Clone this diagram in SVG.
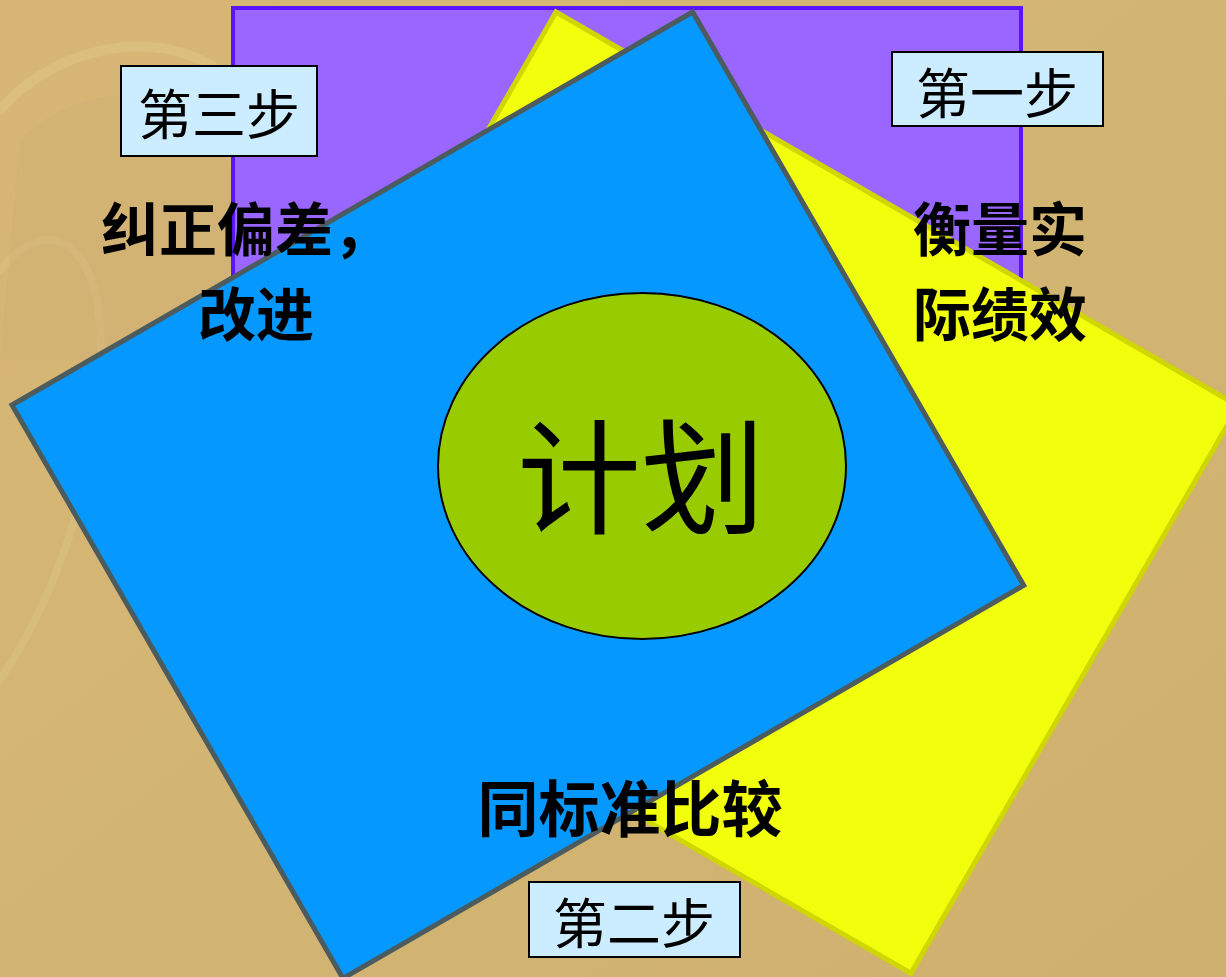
<svg xmlns="http://www.w3.org/2000/svg" width="1226" height="977" viewBox="0 0 1226 977">
<style>
.box{fill:#ccecff;stroke:#000;stroke-width:2}
.step{font-family:"Noto Sans CJK SC","Noto Sans CJK JP",sans-serif;font-size:54px;font-weight:400;fill:#000;text-anchor:middle}
.bold{font-family:"Noto Sans CJK SC","Noto Sans CJK JP",sans-serif;font-size:61px;font-weight:700;fill:#000;text-anchor:middle}
.bold2{font-family:"Noto Sans CJK SC","Noto Sans CJK JP",sans-serif;font-size:58px;font-weight:700;fill:#000;text-anchor:middle}
</style>
<defs>
<linearGradient id="bg" x1="0" y1="0" x2="1" y2="1">
<stop offset="0" stop-color="#d8b676"/>
<stop offset="0.5" stop-color="#d3b573"/>
<stop offset="1" stop-color="#cfb06e"/>
</linearGradient>
</defs>
<rect width="1226" height="977" fill="url(#bg)"/>
<g id="background-swirl" fill="none" stroke-linecap="round">
<path d="M0 110 C60 40 180 20 240 90 C280 150 280 250 250 330" stroke="#e0c888" stroke-width="10" opacity="0.5"/>
<path d="M0 270 C40 220 90 230 100 320 C105 420 80 560 0 680" stroke="#e0c888" stroke-width="8" opacity="0.35"/>
<path d="M20 140 C80 80 180 80 220 140 C250 200 230 300 205 360 L0 360 Z" fill="#c9ad74" stroke="none" opacity="0.3"/>
</g>
<g id="purple-rect">
<rect x="233" y="8" width="788" height="662" fill="#9966ff" stroke="#5a14ff" stroke-width="4"/>
</g>
<g id="yellow-rect">
<rect x="0" y="0" width="788" height="655" transform="translate(556,12) rotate(30)" fill="#f2ff0c" stroke="#cfd600" stroke-width="5"/>
</g>
<g id="blue-rect">
<rect x="0" y="0" width="786" height="662" transform="translate(12,405) rotate(-30)" fill="#0599ff" stroke="#4b5b5e" stroke-width="5"/>
</g>
<g id="plan">
<ellipse cx="642" cy="466" rx="204" ry="173" fill="#99cc00" stroke="#000" stroke-width="2"/>
<text x="641" y="524" font-family="Noto Sans CJK SC,Noto Sans CJK JP,sans-serif" font-size="124" font-weight="400" text-anchor="middle" fill="#000">计划</text>
</g>
<g id="step3">
<rect class="box" x="121" y="66" width="196" height="90"/>
<text class="step" x="219" y="135">第三步</text>
</g>
<g id="step1">
<rect class="box" x="892" y="52" width="211" height="74"/>
<text class="step" x="997" y="114">第一步</text>
</g>
<g id="step2">
<rect class="box" x="529" y="882" width="211" height="75"/>
<text class="step" x="634" y="944">第二步</text>
</g>
<g id="label3">
<text class="bold2" x="246" y="251">纠正偏差，</text>
<text class="bold2" x="256" y="336">改进</text>
</g>
<g id="label1">
<text class="bold2" x="1000" y="251">衡量实</text>
<text class="bold2" x="1000" y="336">际绩效</text>
</g>
<g id="label2">
<text class="bold" x="630" y="832">同标准比较</text>
</g>
<g id="connectors"></g>
</svg>
